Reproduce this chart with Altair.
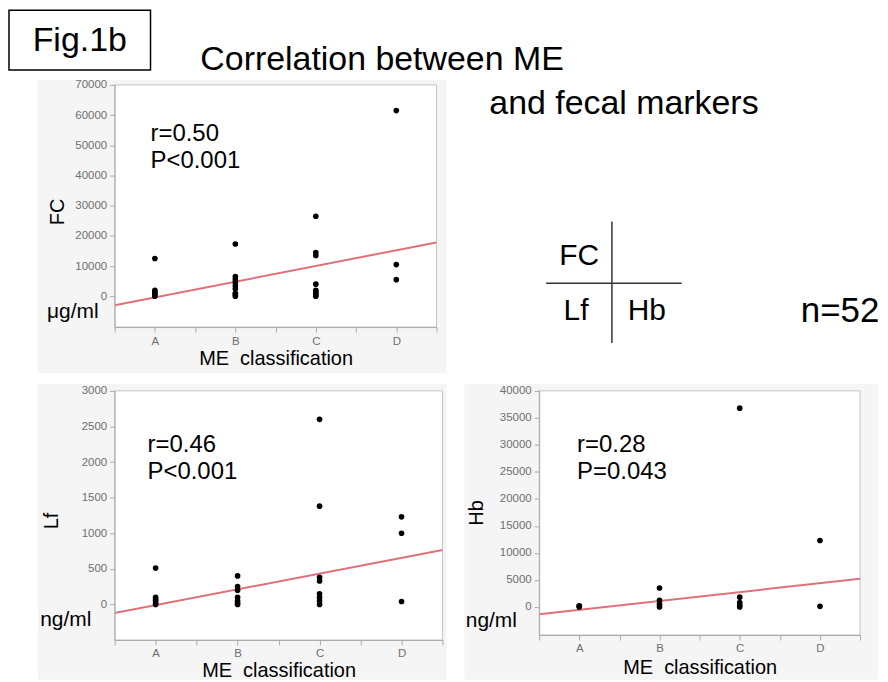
import altair as alt
import pandas as pd

# ---------------- data ----------------
class_labels = ["A", "B", "C", "D"]
class_positions = [1, 2, 3, 4]

fc_A = [12500, 2000, 1500, 1000, 500, 0]
fc_B = [17300, 6500, 5500, 4500, 3500, 2500, 1000, 500, 0]
fc_C = [26500, 14500, 13500, 4000, 2000, 1500, 1000, 500, 0]
fc_D = [61500, 10500, 5500]

lf_A = [510, 100, 70, 50, 20, 0]
lf_B = [400, 250, 200, 100, 50, 20, 0]
lf_C = [2600, 1380, 380, 330, 150, 100, 50, 0]
lf_D = [1230, 1000, 40]

hb_A = [200, 100, 0]
hb_B = [3500, 1200, 500, 0]
hb_C = [36800, 1800, 800, 300, 0]
hb_D = [12300, 100]

fit_x = [0.5, 4.5]
fc_fit = [-2970, 17830]
lf_fit = [-120, 764]
hb_fit = [-1360, 5210]

x_domain = [0.5, 4.5]
x_ticks = [0.5, 1, 1.5, 2, 2.5, 3, 3.5, 4, 4.5]
fc_domain = [-10200, 70000]
fc_ticks = [0, 10000, 20000, 30000, 40000, 50000, 60000, 70000]
lf_domain = [-500, 3000]
lf_ticks = [0, 500, 1000, 1500, 2000, 2500, 3000]
hb_domain = [-5200, 40000]
hb_ticks = [0, 5000, 10000, 15000, 20000, 25000, 30000, 35000, 40000]

fc_stats = ["r=0.50", "P<0.001"]
lf_stats = ["r=0.46", "P<0.001"]
hb_stats = ["r=0.28", "P=0.043"]

fig_label = "Fig.1b"
title_line1 = "Correlation between ME"
title_line2 = "and fecal markers"
n_label = "n=52"
x_title = "ME\u00a0 classification"

FONT = "Liberation Sans"
LINE_COLOR = "#e0707a"
TICK_LABEL = "#6e6e6e"
one = pd.DataFrame({"k": [0]})

label_expr = " : ".join(
    f"datum.value == {p} ? '{c}'" for p, c in zip(class_positions, class_labels)
) + " : ''"


def vrect(x1, x2, y1, y2, **kw):
    return alt.Chart(one).mark_rect(**kw).encode(
        x=alt.value(x1), x2=alt.value(x2), y=alt.value(y1), y2=alt.value(y2)
    )


def vtext(txt, x, y, size, align="center", baseline="middle", **kw):
    return alt.Chart(one).mark_text(
        font=FONT, fontSize=size, align=align, baseline=baseline, color="black", **kw
    ).encode(x=alt.value(x), y=alt.value(y), text=alt.value(txt))


def panel(groups, fit_vals, ydom, yticks, ytitle, unit, stats, W, H, bg,
          ytitle_xy, unit_xy, xtitle_dy, stats_xy, extra=()):
    pts = pd.DataFrame(
        [{"pos": p, "val": v} for p, g in zip(class_positions, groups) for v in g]
    )
    fit = pd.DataFrame({"pos": fit_x, "val": fit_vals})
    xs = alt.Scale(domain=x_domain, nice=False, zero=False)
    ys = alt.Scale(domain=ydom, nice=False, zero=False)
    xaxis = alt.Axis(
        values=x_ticks, labelExpr=label_expr, title=x_title, titleFont=FONT,
        titleFontSize=20, titleFontWeight="normal", titleColor="black",
        titleY=xtitle_dy, titleBaseline="middle", labelFont=FONT, labelFontSize=11.5,
        labelColor=TICK_LABEL, tickColor="#aaaaaa", domainColor="#aaaaaa",
        tickSize=5, labelPadding=3, grid=False, zindex=1, labelFlush=False,
    )
    yaxis = alt.Axis(
        values=yticks, format="d", title=ytitle, titleFont=FONT, titleFontSize=20,
        titleFontWeight="normal", titleColor="black", titleAngle=-90,
        titleX=ytitle_xy[0], titleY=ytitle_xy[1], titleBaseline="middle",
        titleAlign="center", labelFont=FONT, labelFontSize=11.5, labelColor=TICK_LABEL,
        tickColor="#aaaaaa", domainColor="#aaaaaa", tickSize=5, labelPadding=3,
        grid=False, zindex=1, labelFlush=False,
    )
    back = vrect(bg[0], bg[1], bg[2], bg[3], color="#f5f5f5")
    plot_bg = vrect(0, W, 0, H, fill="white", stroke="#c4c4c4", strokeWidth=1)
    line = alt.Chart(fit).mark_line(color=LINE_COLOR, strokeWidth=2, clip=True).encode(
        x=alt.X("pos:Q", scale=xs, axis=xaxis),
        y=alt.Y("val:Q", scale=ys, axis=yaxis),
    )
    dots = alt.Chart(pts).mark_circle(size=32, color="black", opacity=1).encode(
        x=alt.X("pos:Q", scale=xs, axis=xaxis),
        y=alt.Y("val:Q", scale=ys, axis=yaxis),
    )
    st = alt.Chart(one).mark_text(
        font=FONT, fontSize=24, align="left", baseline="top", lineHeight=27,
        color="black",
    ).encode(x=alt.value(stats_xy[0]), y=alt.value(stats_xy[1]), text=alt.value(stats))
    un = vtext(unit, unit_xy[0], unit_xy[1], 21)
    return alt.layer(back, plot_bg, line, dots, st, un, *extra).properties(
        width=W, height=H
    )


# ---------------- top row ----------------
fc_extra = (
    vrect(-106, 36, -75, -15, fill="white", stroke="black", strokeWidth=1.5),
    vtext(fig_label, -35, -44, 34),
    vtext(title_line1, 86, -15, 34, align="left", baseline="alphabetic"),
)
fc_chart = panel(
    [fc_A, fc_B, fc_C, fc_D], fc_fit, fc_domain, fc_ticks, "FC", "\u03bcg/ml",
    fc_stats, 323, 243, (-77, 333, -5, 289), (-57, 127), (-42, 228), 32, (36, 37),
    extra=fc_extra,
)

# decoration cell: origin at x=540, y=83 (absolute)
DX = -70
deco = alt.layer(
    vtext(title_line2, 20 + DX, 29, 34, align="left", baseline="alphabetic"),
    alt.Chart(one).mark_rule(color="#333333", strokeWidth=1.5).encode(
        x=alt.value(143 + DX), x2=alt.value(143 + DX), y=alt.value(137), y2=alt.value(259)
    ),
    alt.Chart(one).mark_rule(color="#333333", strokeWidth=1.5).encode(
        x=alt.value(77 + DX), x2=alt.value(213 + DX), y=alt.value(199), y2=alt.value(199)
    ),
    vtext("FC", 110 + DX, 172, 30),
    vtext("Lf", 107 + DX, 227, 30),
    vtext("Hb", 178 + DX, 227, 30),
    vtext(n_label, 372 + DX, 227, 35),
).properties(width=322, height=243)

# ---------------- bottom row ----------------
lf_chart = panel(
    [lf_A, lf_B, lf_C, lf_D], lf_fit, lf_domain, lf_ticks, "Lf", "ng/ml",
    lf_stats, 329, 250, (-77, 333, -7, 290), (-63, 130), (-49, 230), 31, (33, 42),
)
hb_chart = panel(
    [hb_A, hb_B, hb_C, hb_D], hb_fit, hb_domain, hb_ticks, "Hb", "ng/ml",
    hb_stats, 322, 245, (-75, 340, -7, 290), (-63, 122), (-48, 231), 33, (38, 42),
)

chart = alt.concat(
    fc_chart, deco, lf_chart, hb_chart, columns=2, bounds="flush", align="each",
    spacing={"row": 64, "column": 97},
).properties(padding=0, background="white").configure_view(strokeWidth=0)

chart.save("out.html", embed_options={"renderer": "svg", "actions": False})
